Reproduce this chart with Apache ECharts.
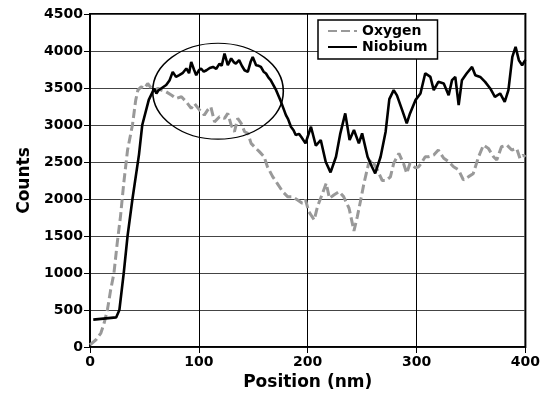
<!DOCTYPE html>
<html>
<head>
<meta charset="utf-8">
<script src="https://cdn.jsdelivr.net/npm/echarts@6/dist/echarts.min.js"></script>
<style>
  html, body { margin: 0; padding: 0; background: #fff; }
  #chart { width: 543px; height: 406px; }
</style>
</head>
<body>
<div id="chart"></div>
<script>
// 读图数据
var oxygenPos = [0, 5.5, 10, 13, 16, 19, 22, 25, 28, 31, 34.5, 39, 42, 44, 47, 50, 53, 56.5, 59.5, 62.5, 65.6, 70, 75, 79, 84, 88.5, 93, 96, 100.7, 105, 108, 111, 114.4, 119, 123.6, 126.6, 129.7, 132.7, 135.7, 138.9, 142, 145, 148, 151, 155.6, 160, 163, 167.8, 172, 177, 181.5, 186, 190.7, 195, 198, 201, 206, 209, 213.6, 217, 220, 224, 228.8, 233, 238, 242.5, 245.6, 248.7, 251.7, 256, 259, 264, 268.5, 272, 276, 279, 283.8, 288, 291, 294, 299, 302, 305, 308, 311, 315.8, 320, 325, 329.5, 334, 338.7, 343, 347.8, 352, 357, 361.5, 366, 370.7, 373.7, 378, 383, 387.5, 392, 395, 398, 400];
var oxygenCounts = [30, 98, 189, 324, 503, 773, 998, 1403, 1762, 2212, 2662, 3000, 3336, 3471, 3516, 3494, 3561, 3494, 3471, 3494, 3471, 3448, 3403, 3359, 3381, 3313, 3224, 3291, 3201, 3134, 3201, 3246, 3043, 3111, 3089, 3157, 2999, 2909, 3089, 3022, 2909, 2887, 2752, 2706, 2640, 2571, 2436, 2302, 2212, 2099, 2032, 2032, 1987, 1943, 1987, 1830, 1717, 1897, 2077, 2212, 2010, 2054, 2099, 2032, 1875, 1570, 1762, 1987, 2212, 2482, 2527, 2392, 2250, 2250, 2300, 2482, 2617, 2482, 2347, 2482, 2420, 2436, 2500, 2571, 2571, 2594, 2662, 2550, 2504, 2436, 2392, 2257, 2302, 2340, 2571, 2729, 2684, 2571, 2527, 2706, 2729, 2662, 2684, 2549, 2594, 2570];

var niobiumPos = [3, 24, 27, 31, 34.5, 39, 45, 48, 54, 59, 61, 63, 66, 70, 73, 76, 79, 82, 85, 88.5, 91, 93, 95.5, 97.6, 100, 102, 104.5, 107, 110, 113, 116, 119, 121, 123.6, 126.6, 129.7, 132, 134, 137, 139.5, 142, 145, 147.5, 149.5, 152.6, 155, 157, 159.5, 161.7, 164, 166, 168.5, 171, 175.5, 180, 182, 184.6, 187, 189, 192, 194, 198, 203, 207.5, 212, 216.6, 221, 226, 230, 234.5, 238.5, 242.5, 247, 250, 255, 259, 262, 267, 271.6, 275, 279, 282, 286.8, 291, 294, 299, 303.6, 308, 312.7, 315.8, 320, 325, 329.5, 332.6, 335.6, 338.7, 341.7, 346, 351, 354, 358.5, 363, 367.7, 372, 376.8, 381, 384.4, 388, 391, 394, 397, 400];
var niobiumCounts = [370, 400, 500, 1000, 1500, 2000, 2600, 3000, 3340, 3494, 3426, 3470, 3500, 3540, 3600, 3718, 3650, 3673, 3700, 3764, 3700, 3853, 3750, 3673, 3740, 3764, 3720, 3740, 3770, 3785, 3760, 3830, 3800, 3966, 3808, 3900, 3850, 3830, 3876, 3800, 3740, 3718, 3850, 3920, 3808, 3800, 3785, 3720, 3696, 3640, 3606, 3540, 3471, 3313, 3134, 3080, 2976, 2930, 2864, 2880, 2841, 2752, 2976, 2720, 2797, 2500, 2360, 2571, 2887, 3157, 2797, 2932, 2752, 2887, 2571, 2436, 2347, 2571, 2910, 3350, 3471, 3400, 3201, 3022, 3157, 3336, 3426, 3700, 3650, 3471, 3583, 3561, 3403, 3606, 3650, 3268, 3606, 3696, 3785, 3673, 3650, 3583, 3494, 3381, 3426, 3313, 3471, 3920, 4056, 3876, 3808, 3880];

var xTicks = { min: 0, max: 400, step: 100 };
var yTicks = { min: 0, max: 4500, step: 500 };

// 椭圆标注（数据坐标）
var ringCenter = [117.6, 3457];
var ringRadius = [60, 648];

function pairs(xs, ys) {
  var out = [];
  for (var i = 0; i < xs.length; i++) out.push([xs[i], ys[i]]);
  return out;
}

var font = 'DejaVu Sans';
var chart = echarts.init(document.getElementById('chart'), null, { renderer: 'canvas' });

var option = {
  animation: false,
  backgroundColor: '#fff',
  grid: {
    left: 90, right: 16, top: 14, bottom: 59,
    show: true, borderColor: '#000', borderWidth: 2
  },
  legend: {
    orient: 'vertical',
    left: 318, top: 20,
    padding: [4, 10, 5, 9],
    itemWidth: 29, itemHeight: 14, itemGap: 2,
    backgroundColor: '#fff',
    borderColor: '#000', borderWidth: 1.5,
    itemStyle: { opacity: 0 },
    textStyle: { fontFamily: font, fontWeight: 'bold', fontSize: 14, color: '#000' },
    data: ['Oxygen', 'Niobium']
  },
  xAxis: {
    type: 'value',
    min: xTicks.min, max: xTicks.max, interval: xTicks.step,
    name: 'Position (nm)',
    nameLocation: 'middle', nameGap: 25,
    nameTextStyle: { fontFamily: font, fontWeight: 'bold', fontSize: 17, color: '#000' },
    axisLine: { lineStyle: { color: '#000', width: 1.5 } },
    axisTick: { show: true, inside: false, length: 6, lineStyle: { color: '#000' } },
    axisLabel: { margin: 8, fontFamily: font, fontWeight: 'bold', fontSize: 14, color: '#000' },
    splitLine: { show: true, lineStyle: { color: '#000', width: 1 } }
  },
  yAxis: {
    type: 'value',
    min: yTicks.min, max: yTicks.max, interval: yTicks.step,
    name: 'Counts',
    nameLocation: 'middle', nameGap: 52,
    nameTextStyle: { fontFamily: font, fontWeight: 'bold', fontSize: 17, color: '#000' },
    axisLine: { show: true, lineStyle: { color: '#000', width: 1.5 } },
    axisTick: { show: true, inside: false, length: 6, lineStyle: { color: '#000' } },
    axisLabel: {
      margin: 7, fontFamily: font, fontWeight: 'bold', fontSize: 14, color: '#000',
      formatter: function (v) { return String(v); }
    },
    splitLine: { show: true, lineStyle: { color: '#444', width: 1 } }
  },
  series: [{
    name: 'Oxygen',
    type: 'line',
    symbol: 'none',
    data: pairs(oxygenPos, oxygenCounts),
    lineStyle: { color: '#999', width: 3, type: [9, 4] },
    itemStyle: { color: '#999' },
    z: 3
  }, {
    name: 'Niobium',
    type: 'line',
    symbol: 'none',
    data: pairs(niobiumPos, niobiumCounts),
    lineStyle: { color: '#000', width: 2.6 },
    itemStyle: { color: '#000' },
    z: 4
  }]
};
chart.setOption(option);

// 用坐标系换算画椭圆
var c = chart.convertToPixel({ gridIndex: 0 }, ringCenter);
var e = chart.convertToPixel({ gridIndex: 0 }, [ringCenter[0] + ringRadius[0], ringCenter[1] + ringRadius[1]]);
var rx = Math.abs(e[0] - c[0]);
var ry = Math.abs(c[1] - e[1]);
chart.setOption({
  graphic: [{
    type: 'circle',
    x: c[0], y: c[1],
    scaleY: ry / rx,
    shape: { cx: 0, cy: 0, r: rx },
    style: { fill: 'none', stroke: '#000', lineWidth: 1.6, strokeNoScale: true },
    z: 10
  }]
});
</script>
</body>
</html>
